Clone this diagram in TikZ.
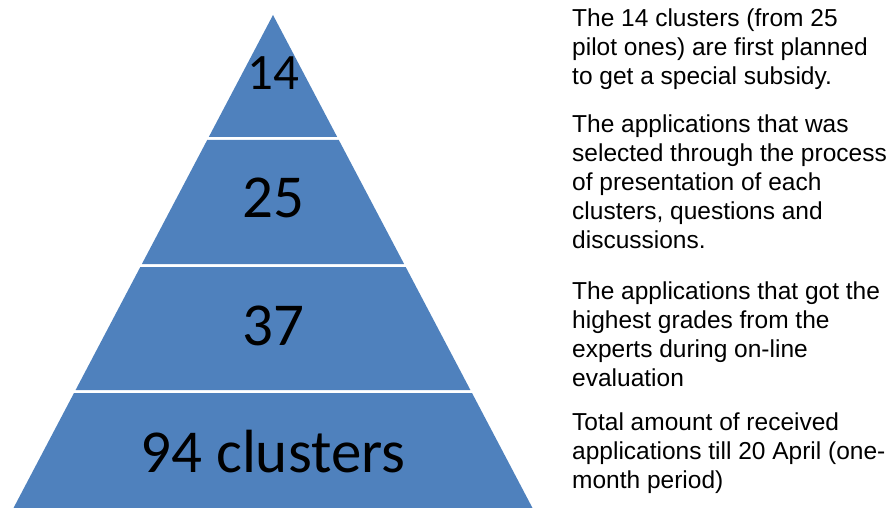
\documentclass[tikz,border=0pt]{standalone}
\usepackage{fontspec}
\setmainfont{Carlito}
\newfontfamily\notefont{Liberation Sans}
\usetikzlibrary{positioning}
\definecolor{pyrblue}{HTML}{4F81BD}
\tikzset{
  band/.style={fill=pyrblue},
  num/.style={anchor=base, inner sep=0pt, font=\fontsize{61}{72}\selectfont},
  note/.style={anchor=base west, inner sep=0pt, align=left,
    font=\notefont\fontsize{24.5}{29}\selectfont}
}

\begin{document}
\begin{tikzpicture}[x=1pt,y=-1pt]
  \useasboundingbox (0,0) rectangle (895,508);
  % pyramid, four bands
  \fill[band] (273,15) -- (337.2,137) -- (208.8,137) -- cycle;
  \fill[band] (207.2,140) -- (338.8,140) -- (404.1,264) -- (141.9,264) -- cycle;
  \fill[band] (140.3,267) -- (405.7,267) -- (470.4,390) -- (75.6,390) -- cycle;
  \fill[band] (74.0,393) -- (472.0,393) -- (532.5,508) -- (13.5,508) -- cycle;
  \node[num, font=\fontsize{51}{60}\selectfont] (n14) at (273,90) {14};
  \node[num] (n25) at (273,218) {25};
  \node[num] (n37) at (273,345) {37};
  \node[num] (n94) at (273,472) {94 clusters};
  % notes on the right (placed at the baseline of their last line)
  \node[note] (note1) at (572,85) {The 14 clusters (from 25\\pilot ones) are first planned\\to get a special subsidy.};
  \node[note] (note2) at (572,248) {The applications that was\\selected through the process\\of presentation of each\\clusters, questions and\\discussions.};
  \node[note] (note3) at (572,386) {The applications that got the\\highest grades from the\\experts during on-line\\evaluation};
  \node[note] (note4) at (572,488) {Total amount of received\\applications till 20 April (one-\\month period)};
\end{tikzpicture}
\end{document}
